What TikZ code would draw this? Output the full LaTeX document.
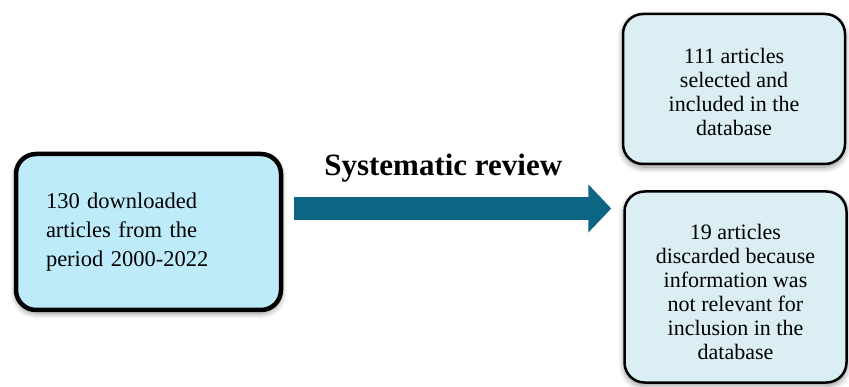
\documentclass[tikz,border=0pt]{standalone}
\usepackage{fontspec}
\setmainfont{Liberation Serif}
\usepackage{tikz}
\usetikzlibrary{positioning,calc,shadows.blur,arrows.meta}
\definecolor{srcfill}{HTML}{BEEBFA}
\definecolor{outfill}{HTML}{DAEEF3}
\definecolor{arrowblue}{HTML}{0C6683}
\tikzset{
	srcbox/.style = {draw=black, line width=4.5pt, rounded corners=20pt, fill=srcfill,
		minimum width=263pt, minimum height=156pt, inner xsep=30pt, text width=205pt, align=left,
		font=\fontsize{22.5}{29}\selectfont,
		blur shadow={shadow blur steps=10, shadow xshift=0pt, shadow yshift=-3pt, shadow opacity=45, shadow blur radius=6pt}},
	outbox/.style = {draw=black, line width=2.5pt, rounded corners=20pt, fill=outfill,
		minimum width=222pt, align=center,
		font=\fontsize{22}{24}\selectfont,
		blur shadow={shadow blur steps=10, shadow xshift=0pt, shadow yshift=-3pt, shadow opacity=45, shadow blur radius=6pt}},
	flowarrow/.style = {draw=arrowblue, line width=23pt, -{Triangle[length=23pt,width=47pt]}},
	steplabel/.style = {font=\fontsize{31}{34}\selectfont\bfseries}
}
\begin{document}
\begin{tikzpicture}[x=1pt, y=-1pt]
	\useasboundingbox (0,0) rectangle (849,387);
	
	\node [srcbox] (src) at (148.5,232) {130 downloaded\\articles from the\\period 2000-2022\\[-1pt]};
	\node [outbox, minimum height=150pt] (kept) at (734,89) {111 articles\\selected and\\included in the\\database\\[-30pt]};
	\node [outbox, minimum height=191pt] (dropped) at (735.5,287) {19 articles\\discarded because\\information was\\not relevant for\\inclusion in the\\database\\[-34pt]};
	
	% review arrow
	\coordinate (a0) at ($(src.east)+(11,-23.5)$);
	\coordinate (a1) at ($(dropped.west)+(-12,-78.5)$);
	\draw [flowarrow] (a0) -- (a1);
	\node [steplabel] (review) at ($(a0)!0.47!(a1)+(0,-40)$) {Systematic review};
\end{tikzpicture}
\end{document}
